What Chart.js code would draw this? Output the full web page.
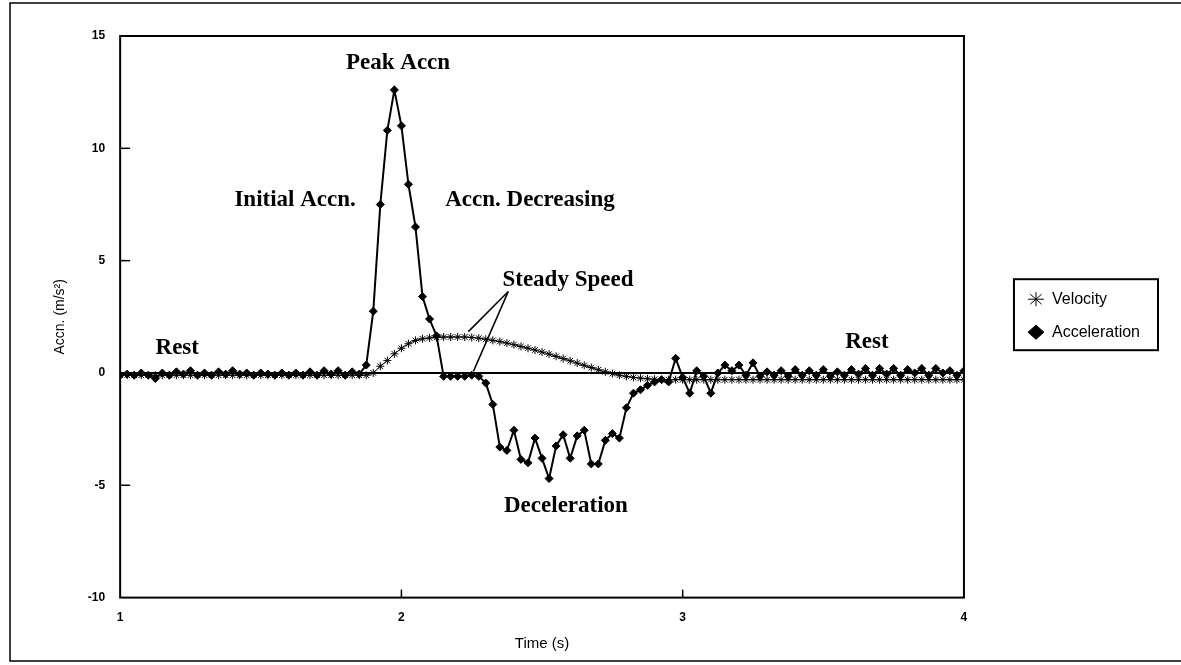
<!DOCTYPE html>
<html>
<head>
<meta charset="utf-8">
<script src="https://cdn.jsdelivr.net/npm/chart.js@4/dist/chart.umd.min.js"></script>
<style>
body { margin: 0; background: #fff; }
</style>
</head>
<body>
<canvas id="graphiqueAccn" width="1181" height="665"></canvas>
<script>
// sample times (s)
var times = [1, 1.025, 1.05, 1.075, 1.1, 1.125, 1.15, 1.175, 1.2, 1.225,
    1.25, 1.275, 1.3, 1.325, 1.35, 1.375, 1.4, 1.425, 1.45, 1.475,
    1.5, 1.525, 1.55, 1.575, 1.6, 1.625, 1.65, 1.675, 1.7, 1.725,
    1.75, 1.775, 1.8, 1.825, 1.85, 1.875, 1.9, 1.925, 1.95, 1.975,
    2, 2.025, 2.05, 2.075, 2.1, 2.125, 2.15, 2.175, 2.2, 2.225,
    2.25, 2.275, 2.3, 2.325, 2.35, 2.375, 2.4, 2.425, 2.45, 2.475,
    2.5, 2.525, 2.55, 2.575, 2.6, 2.625, 2.65, 2.675, 2.7, 2.725,
    2.75, 2.775, 2.8, 2.825, 2.85, 2.875, 2.9, 2.925, 2.95, 2.975,
    3, 3.025, 3.05, 3.075, 3.1, 3.125, 3.15, 3.175, 3.2, 3.225,
    3.25, 3.275, 3.3, 3.325, 3.35, 3.375, 3.4, 3.425, 3.45, 3.475,
    3.5, 3.525, 3.55, 3.575, 3.6, 3.625, 3.65, 3.675, 3.7, 3.725,
    3.75, 3.775, 3.8, 3.825, 3.85, 3.875, 3.9, 3.925, 3.95, 3.975, 4];

var velocity = [-0.1, -0.1, -0.1, -0.1, -0.1, -0.1, -0.1, -0.1, -0.1, -0.1,
    -0.1, -0.1, -0.1, -0.1, -0.1, -0.1, -0.1, -0.1, -0.1, -0.1,
    -0.1, -0.1, -0.1, -0.1, -0.1, -0.1, -0.1, -0.1, -0.1, -0.1,
    -0.1, -0.1, -0.1, -0.1, -0.1, -0.1, 0, 0.3, 0.55, 0.85,
    1.1, 1.3, 1.45, 1.52, 1.56, 1.58, 1.6, 1.6, 1.6, 1.6,
    1.58, 1.55, 1.5, 1.45, 1.4, 1.33, 1.26, 1.18, 1.1, 1.02,
    0.93, 0.84, 0.74, 0.64, 0.54, 0.44, 0.34, 0.24, 0.14, 0.05,
    -0.03, -0.1, -0.15, -0.2, -0.23, -0.26, -0.28, -0.3, -0.3, -0.3,
    -0.3, -0.3, -0.3, -0.3, -0.3, -0.3, -0.3, -0.3, -0.3, -0.3,
    -0.3, -0.3, -0.3, -0.3, -0.3, -0.3, -0.3, -0.3, -0.3, -0.3,
    -0.3, -0.3, -0.3, -0.3, -0.3, -0.3, -0.3, -0.3, -0.3, -0.3,
    -0.3, -0.3, -0.3, -0.3, -0.3, -0.3, -0.3, -0.3, -0.3, -0.3, -0.3];

var acceleration = [-0.1, -0.05, -0.1, 0, -0.1, -0.25, 0, -0.1, 0.05, -0.05,
    0.1, -0.1, 0, -0.1, 0.05, -0.05, 0.1, -0.05, 0, -0.1,
    0, -0.05, -0.1, 0, -0.1, 0, -0.1, 0.05, -0.1, 0.1,
    -0.05, 0.1, -0.1, 0.05, -0.05, 0.35, 2.75, 7.5, 10.8, 12.6,
    11.0, 8.4, 6.5, 3.4, 2.4, 1.65, -0.15, -0.15, -0.15, -0.15,
    -0.1, -0.15, -0.45, -1.4, -3.3, -3.45, -2.55, -3.85, -4.0, -2.9,
    -3.8, -4.7, -3.25, -2.75, -3.8, -2.8, -2.55, -4.05, -4.05, -3.0,
    -2.7, -2.9, -1.55, -0.9, -0.75, -0.55, -0.4, -0.3, -0.4, 0.65,
    -0.2, -0.9, 0.1, -0.15, -0.9, 0, 0.35, 0.1, 0.35, -0.1,
    0.45, -0.15, 0.05, -0.1, 0.1, -0.15, 0.15, -0.1, 0.1, -0.1,
    0.15, -0.15, 0.05, -0.1, 0.15, -0.05, 0.2, -0.1, 0.2, -0.05,
    0.2, -0.1, 0.15, 0, 0.2, -0.1, 0.2, 0, 0.1, -0.1, 0.1];

// text notes on the plot, in data units
var notes = ['Peak Accn', 'Initial Accn.', 'Accn. Decreasing', 'Steady Speed', 'Rest', 'Rest', 'Deceleration'];
var noteT = [1.988, 1.622, 2.457, 2.592, 1.203, 3.655, 2.585];
var noteV = [13.8, 7.7, 7.7, 4.15, 1.12, 1.39, -5.91];

function pts(ys) {
    return times.map(function (t, i) { return { x: t, y: ys[i] }; });
}

var cadre = {
    id: 'cadre',
    afterDatasetsDraw: function (chart) {
        var ctx = chart.ctx;
        var a = chart.chartArea;
        var sx = chart.scales.x;
        var sy = chart.scales.y;
        ctx.save();
        // outer frame
        ctx.strokeStyle = '#000';
        ctx.lineWidth = 1.5;
        ctx.strokeRect(10, 3, 1180, 658);
        // plot frame
        ctx.lineWidth = 2;
        ctx.strokeRect(a.left, a.top, a.right - a.left, a.bottom - a.top);
        // inner ticks
        ctx.lineWidth = 1.5;
        [-5, 0, 5, 10].forEach(function (v) {
            var y = sy.getPixelForValue(v);
            ctx.beginPath(); ctx.moveTo(a.left, y); ctx.lineTo(a.left + 10, y); ctx.stroke();
        });
        [2, 3].forEach(function (t) {
            var x = sx.getPixelForValue(t);
            ctx.beginPath(); ctx.moveTo(x, a.bottom); ctx.lineTo(x, a.bottom - 8); ctx.stroke();
        });
        // notes
        ctx.fillStyle = '#000';
        ctx.font = 'bold 23px "Liberation Serif", "DejaVu Serif", serif';
        ctx.textAlign = 'center';
        ctx.textBaseline = 'middle';
        notes.forEach(function (s, i) {
            ctx.fillText(s, sx.getPixelForValue(noteT[i]), sy.getPixelForValue(noteV[i]));
        });
        // pointers from "Steady Speed"
        ctx.lineWidth = 1.5;
        var x0 = sx.getPixelForValue(2.38), y0 = sy.getPixelForValue(3.63);
        ctx.beginPath();
        ctx.moveTo(x0, y0); ctx.lineTo(sx.getPixelForValue(2.238), sy.getPixelForValue(1.84));
        ctx.moveTo(x0, y0); ctx.lineTo(sx.getPixelForValue(2.256), sy.getPixelForValue(0.07));
        ctx.stroke();
        // legend frame
        var boxes = chart.legend.legendHitBoxes;
        if (boxes && boxes.length) {
            var l = Math.min.apply(null, boxes.map(function (b) { return b.left; }));
            var t = Math.min.apply(null, boxes.map(function (b) { return b.top; }));
            var r = Math.max.apply(null, boxes.map(function (b) { return b.left + b.width; }));
            var bt = Math.max.apply(null, boxes.map(function (b) { return b.top + b.height; }));
            ctx.lineWidth = 2;
            ctx.strokeRect(l - 14, t - 12, r - l + 32, bt - t + 22);
        }
        ctx.restore();
    }
};

var ctxAccn = document.getElementById('graphiqueAccn').getContext('2d');
var graphiqueAccn = new Chart(ctxAccn, {
    type: 'line',
    data: {
        datasets: [{
            label: 'Velocity',
            data: pts(velocity),
            borderColor: '#000',
            backgroundColor: '#000',
            borderWidth: 1,
            pointStyle: 'star',
            pointRadius: 4,
            pointBorderWidth: 1,
            tension: 0
        }, {
            label: 'Acceleration',
            data: pts(acceleration),
            borderColor: '#000',
            backgroundColor: '#000',
            borderWidth: 2,
            pointStyle: 'rectRot',
            pointRadius: 4,
            pointBorderWidth: 1,
            tension: 0
        }]
    },
    options: {
        responsive: false,
        animation: false,
        layout: { padding: { top: 36, right: 31, bottom: 10, left: 48 } },
        plugins: {
            legend: {
                position: 'right',
                align: 'start',
                title: { display: true, text: ' ', font: { size: 1 }, padding: { top: 237, bottom: 0 } },
                labels: {
                    color: '#000',
                    usePointStyle: true,
                    pointStyleWidth: 16,
                    boxHeight: 10,
                    padding: 17,
                    font: { family: '"Liberation Sans", Arial, sans-serif', size: 16 }
                }
            },
            tooltip: { enabled: false }
        },
        scales: {
            x: {
                type: 'linear',
                min: 1,
                max: 4,
                ticks: {
                    stepSize: 1,
                    color: '#000',
                    padding: 13,
                    font: { family: '"Liberation Sans", Arial, sans-serif', size: 12, weight: 'bold' }
                },
                grid: { display: false, drawTicks: false },
                border: { display: false },
                title: {
                    display: true,
                    text: 'Time (s)',
                    color: '#000',
                    padding: { top: -3, bottom: 2 },
                    font: { family: '"Liberation Sans", Arial, sans-serif', size: 15 }
                }
            },
            y: {
                min: -10,
                max: 15,
                ticks: {
                    stepSize: 5,
                    color: '#000',
                    padding: 15,
                    font: { family: '"Liberation Sans", Arial, sans-serif', size: 12, weight: 'bold' }
                },
                grid: {
                    drawTicks: false,
                    lineWidth: 2,
                    color: function (c) { return c.tick && c.tick.value === 0 ? '#000' : 'rgba(0,0,0,0)'; }
                },
                border: { display: false },
                title: {
                    display: true,
                    text: 'Accn. (m/s²)',
                    color: '#000',
                    font: { family: '"Liberation Sans", Arial, sans-serif', size: 14 }
                }
            },
            ecart: {
                type: 'linear',
                position: 'right',
                grid: { display: false, drawTicks: false },
                ticks: { display: false },
                border: { display: false },
                afterFit: function (s) { s.width = 47; }
            }
        }
    },
    plugins: [cadre]
});
</script>
</body>
</html>
